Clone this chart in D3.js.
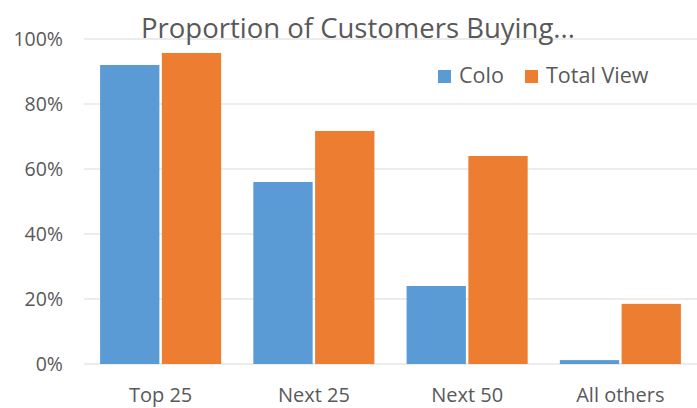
<!DOCTYPE html>
<html>
<head>
<meta charset="utf-8">
<script src="https://cdn.jsdelivr.net/npm/d3@7"></script>
<style>
  body { margin: 0; background: #fff; }
  text { font-family: "Open Sans", sans-serif; fill: #595959; }
</style>
</head>
<body>
<svg id="chart" width="697" height="408"></svg>
<script>
//// DATA
const categories = ["Top 25", "Next 25", "Next 50", "All others"]
const seriesNames = ["Colo", "Total View"]
const coloValues = [0.92, 0.56, 0.24, 0.012]
const totalViewValues = [0.957, 0.717, 0.64, 0.185]
const yTicks = [0, 0.2, 0.4, 0.6, 0.8, 1.0]

const colors = ["#5b9bd5", "#ed7d31"]

const svg = d3.select("#chart")
const width = 697, height = 408
const margin = {top: 39, right: 0, bottom: 44, left: 84}

// rows built from the named arrays
const rows = categories.map((c, i) => ({cat: c, values: [coloValues[i], totalViewValues[i]]}))

const x = d3.scaleBand()
  .domain(categories)
  .range([margin.left, width - margin.right])
  .paddingInner(0.21)
  .paddingOuter(0.105)

const xInner = d3.scaleBand()
  .domain(seriesNames)
  .range([0, x.bandwidth()])
  .paddingInner(0.04)

const y = d3.scaleLinear()
  .domain([0, 1])
  .range([height - margin.bottom, margin.top])

// gridlines
svg.append("g")
  .selectAll("line")
  .data(yTicks)
  .join("line")
  .attr("x1", margin.left)
  .attr("x2", width)
  .attr("y1", d => y(d))
  .attr("y2", d => y(d))
  .attr("stroke", "#d9d9d9")
  .attr("stroke-width", 1.2)

// y axis labels
const yAxis = svg.append("g")
  .attr("transform", `translate(${margin.left - 21},0)`)
  .call(d3.axisLeft(y).tickValues(yTicks).tickFormat(d3.format(".0%")).tickSize(0))
yAxis.select(".domain").remove()
yAxis.selectAll("text")
  .attr("x", 0)
  .style("font-size", "19.5px")
  .style("fill", "#595959")
  .style("font-family", "Open Sans, sans-serif")

// bars
const groups = svg.append("g")
  .selectAll("g")
  .data(rows)
  .join("g")
  .attr("transform", d => `translate(${x(d.cat)},0)`)

groups.selectAll("rect")
  .data(d => d.values.map((v, i) => ({series: seriesNames[i], v, i})))
  .join("rect")
  .attr("x", d => xInner(d.series))
  .attr("width", xInner.bandwidth())
  .attr("y", d => y(d.v))
  .attr("height", d => y(0) - y(d.v))
  .attr("fill", d => colors[d.i])

// x axis labels
const xAxis = svg.append("g")
  .attr("transform", `translate(0,${height - margin.bottom})`)
  .call(d3.axisBottom(x).tickSize(0).tickPadding(0))
xAxis.select(".domain").remove()
xAxis.selectAll("text")
  .attr("dy", null)
  .attr("y", 38)
  .style("font-size", "20px")
  .style("fill", "#595959")
  .style("font-family", "Open Sans, sans-serif")

// title
svg.append("text")
  .attr("x", 358)
  .attr("y", 38)
  .attr("text-anchor", "middle")
  .style("font-size", "27.5px")
  .text("Proportion of Customers Buying...")

// legend
const legend = svg.append("g")
const legendX = [438, 525]
seriesNames.forEach((name, i) => {
  legend.append("rect")
    .attr("x", legendX[i])
    .attr("y", 70)
    .attr("width", 13)
    .attr("height", 13)
    .attr("fill", colors[i])
  legend.append("text")
    .attr("x", legendX[i] + 21)
    .attr("y", 83)
    .style("font-size", "21.5px")
    .text(name)
})
</script>
</body>
</html>
